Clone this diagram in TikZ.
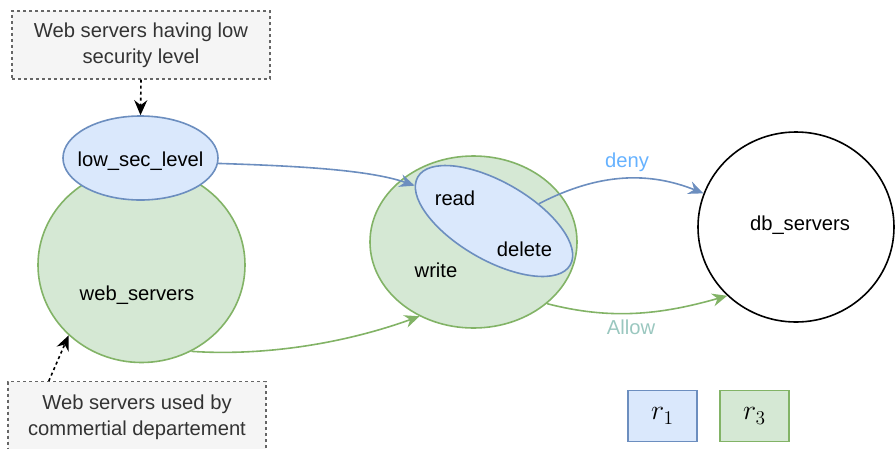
\documentclass[tikz,border=0pt]{standalone}
\usepackage{fontspec}
\setmainfont{Liberation Sans}
\usetikzlibrary{shapes.geometric,arrows.meta,calc}
\definecolor{bfill}{HTML}{DAE8FC}
\definecolor{bline}{HTML}{6C8EBF}
\definecolor{gfill}{HTML}{D5E8D4}
\definecolor{gline}{HTML}{82B366}
\definecolor{nfill}{HTML}{F5F5F5}
\definecolor{nline}{HTML}{666666}
\definecolor{ntext}{HTML}{333333}
\definecolor{denyc}{HTML}{66B2FF}
\definecolor{allowc}{HTML}{9AC7BF}
\begin{document}
\begin{tikzpicture}[x=1pt,y=-1pt,
  every node/.style={font=\fontsize{20.2}{26}\selectfont},
  blueell/.style={ellipse,draw=bline,fill=bfill,line width=1.6pt,inner sep=0pt},
  greenell/.style={ellipse,draw=gline,fill=gfill,line width=1.6pt,inner sep=0pt},
  notebox/.style={rectangle,draw=nline,fill=nfill,dashed,line width=1.4pt,inner sep=0pt},
  notetext/.style={text=ntext,align=center,inner sep=0pt},
  tip/.style={-{Stealth[length=15pt,width=13pt,inset=5pt]}},
  blueconn/.style={tip,draw=bline,line width=1.6pt},
  greenconn/.style={tip,draw=gline,line width=1.6pt},
  noteconn/.style={tip,draw=black,dashed,line width=1.6pt},
  legbox/.style={rectangle,line width=1.6pt,minimum width=69pt,minimum height=51pt,inner sep=0pt}]
\useasboundingbox (0,0) rectangle (895,448);
\clip (0,0) rectangle (895,448);
% web servers
\node[greenell,minimum width=207pt,minimum height=195pt] (ws) at (141.5,265) {};
\node at (137,295) (wst) {web\_servers};
\node[blueell,minimum width=155pt,minimum height=84pt] (lsl) at (140.5,158) {};
\node (lslt) at (140.5,161) {low\_sec\_level};
% notes
\node[notebox,minimum width=258pt,minimum height=68pt] (n1) at (141,45) {};
\node[notetext] (n1t) at (141,45) {Web servers having low\\security level};
\node[notebox,minimum width=258pt,minimum height=84pt,anchor=north] (n2) at (137,381) {};
\node[notetext] (n2t) at (137,417) {Web servers used by\\commertial departement};
% write
\node[greenell,minimum width=207pt,minimum height=172pt] (wr) at (473.5,242) {};
\node (wrt) at (436,270) {write};
\node[blueell,rotate=-30,minimum width=176pt,minimum height=78pt] (rd) at (494,221) {};
\node (rdt) at (455,198) {read};
\node (dlt) at (524.5,249) {delete};
% db
\node[ellipse,draw=black,fill=white,line width=1.6pt,minimum width=196pt,minimum height=190pt,inner sep=0pt] (db) at (796,227) {};
\node (dbt) at (800,225) {db\_servers};
% legend
\node[legbox,draw=bline,fill=bfill] (r1) at (662.5,416) {};
\node[scale=1.35] (r1t) at (662.5,416) {$r_1$};
\node[legbox,draw=gline,fill=gfill] (r3) at (754.5,416) {};
\node[scale=1.35] (r3t) at (754.5,416) {$r_3$};
% connectors
\draw[noteconn] (n1.south) -- (lsl.north);
\draw[noteconn] ($(n2.north west)!0.16!(n2.north east)$) -- (ws.224);
\draw[blueconn] (lsl.-4) .. controls (300,166) and (370,170) .. (rd.186);
\draw[blueconn] (rd.51) .. controls (600,172) and (650,172) .. (db.160);
\node[text=denyc] (deny) at (627,162) {deny};
\draw[greenconn] (wr.-40) .. controls (610,320) and (660,315) .. (db.225);
\node[text=allowc] (allow) at (631,327) {Allow};
\draw[greenconn] (ws.-60) .. controls (260,356) and (340,345) .. (wr.234);
\end{tikzpicture}
\end{document}
